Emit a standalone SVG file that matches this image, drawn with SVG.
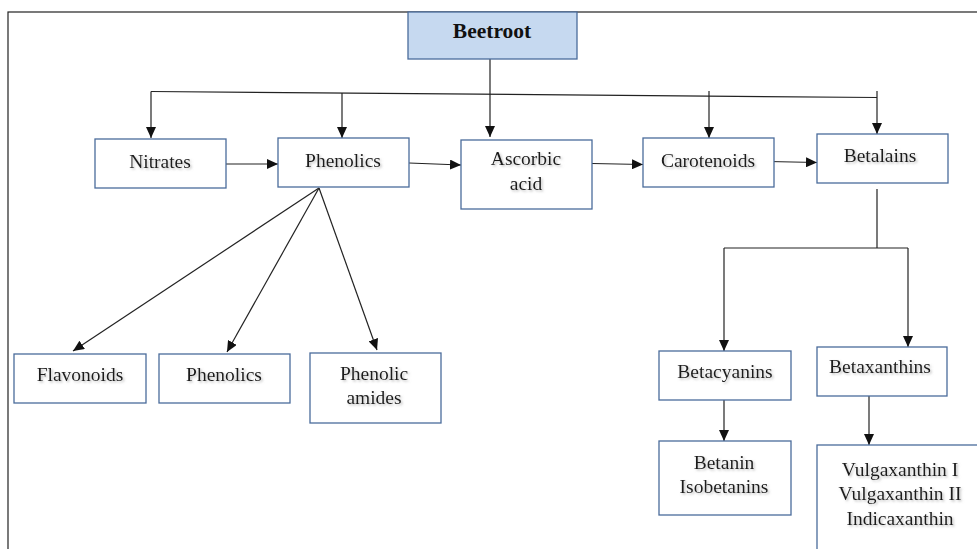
<svg xmlns="http://www.w3.org/2000/svg" width="977" height="549" viewBox="0 0 977 549">
<style>
.box{fill:#ffffff;stroke:#4a6c9b;stroke-width:1.3}
.root{fill:#c6d9f0;stroke:#4a6c9b;stroke-width:1.3}
.t{font-family:"Liberation Serif","Times New Roman",serif;font-size:19.5px;fill:#1a1a1a;text-anchor:middle;filter:url(#sh)}
.tb{font-family:"Liberation Serif","Times New Roman",serif;font-size:21.5px;font-weight:bold;fill:#111;text-anchor:middle}
.c{fill:none;stroke:#222;stroke-width:1.2}
.a{marker-end:url(#ah)}
</style>
<defs>
<marker id="ah" markerUnits="userSpaceOnUse" markerWidth="12" markerHeight="10" refX="11" refY="5" orient="auto">
<path d="M0,0 L11,5 L0,10 Z" fill="#111"/>
</marker>
<filter id="sh" x="-10%" y="-20%" width="130%" height="160%">
<feDropShadow dx="1.5" dy="1.5" stdDeviation="1" flood-color="#888" flood-opacity="0.55"/>
</filter>
</defs>
<rect x="8" y="12" width="980" height="560" fill="none" stroke="#222" stroke-width="1.2"/>
<g id="connectors">
<path class="c" d="M151,91.5 L877,97.5"/>
<path class="c a" d="M151,91.5 V138"/>
<path class="c a" d="M342,93 V138"/>
<path class="c a" d="M490,59 V137"/>
<path class="c a" d="M709,91 V138"/>
<path class="c a" d="M877,91 V134"/>
<path class="c a" d="M226,164 H278"/>
<path class="c a" d="M409,163 L461,165"/>
<path class="c a" d="M592,163.5 L643,164.5"/>
<path class="c a" d="M768,161.5 L817,162.5"/>
<path class="c a" d="M319,188 L73,351"/>
<path class="c a" d="M319,188 L227,352"/>
<path class="c a" d="M319,188 L377,350"/>
<path class="c" d="M877,189 V248 M724,248 H908"/>
<path class="c a" d="M724,248 V351"/>
<path class="c a" d="M908,248 V347"/>
<path class="c a" d="M724,397 V441"/>
<path class="c a" d="M869,395 V445"/>
</g>
<g id="beetroot"><rect class="root" x="408" y="12" width="169" height="47"/><text class="tb" x="492" y="38">Beetroot</text></g>
<g id="nitrates"><rect class="box" x="95" y="139" width="131" height="49"/><text class="t" x="160" y="168">Nitrates</text></g>
<g id="phenolics"><rect class="box" x="278" y="138" width="131" height="49"/><text class="t" x="343" y="167">Phenolics</text></g>
<g id="ascorbic"><rect class="box" x="461" y="140" width="131" height="69"/><text class="t" x="526" y="165">Ascorbic</text><text class="t" x="526" y="190">acid</text></g>
<g id="carotenoids"><rect class="box" x="643" y="138" width="131" height="49"/><text class="t" x="708" y="167">Carotenoids</text></g>
<g id="betalains"><rect class="box" x="817" y="134" width="131" height="49"/><text class="t" x="880" y="162">Betalains</text></g>
<g id="flavonoids"><rect class="box" x="14" y="354" width="132" height="49"/><text class="t" x="80" y="381">Flavonoids</text></g>
<g id="phenolics2"><rect class="box" x="159" y="354" width="131" height="49"/><text class="t" x="224" y="381">Phenolics</text></g>
<g id="phenolic-amides"><rect class="box" x="310" y="353" width="131" height="70"/><text class="t" x="374" y="380">Phenolic</text><text class="t" x="374" y="404">amides</text></g>
<g id="betacyanins"><rect class="box" x="659" y="351" width="132" height="49"/><text class="t" x="725" y="378">Betacyanins</text></g>
<g id="betaxanthins"><rect class="box" x="817" y="347" width="130" height="49"/><text class="t" x="880" y="373">Betaxanthins</text></g>
<g id="betanin"><rect class="box" x="659" y="441" width="132" height="74"/><text class="t" x="724" y="469">Betanin</text><text class="t" x="724" y="493">Isobetanins</text></g>
<g id="vulgaxanthin"><rect class="box" x="817" y="445" width="170" height="120"/><text class="t" x="900" y="476">Vulgaxanthin I</text><text class="t" x="900" y="500">Vulgaxanthin II</text><text class="t" x="900" y="525">Indicaxanthin</text></g>
</svg>
